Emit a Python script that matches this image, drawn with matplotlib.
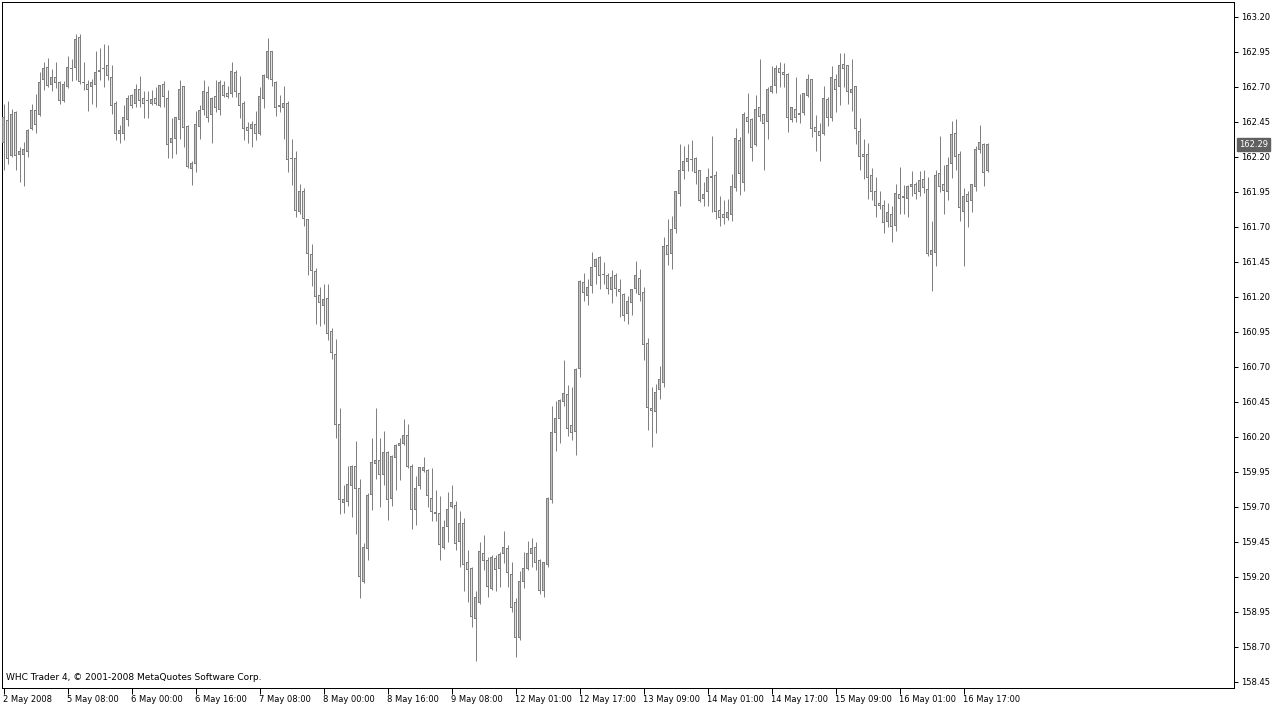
import matplotlib
matplotlib.use("Agg")
import matplotlib.pyplot as plt
import matplotlib.transforms as mtransforms
import numpy as np

# Hourly OHLC, 247 bars
opens = [162.30,162.46,162.21,162.52,162.22,162.22,162.24,162.40,162.53,162.50,
         162.75,162.84,162.72,162.77,162.73,162.60,162.70,162.83,162.84,163.05,
         162.73,162.72,162.70,162.72,162.81,162.83,162.85,162.77,162.58,162.37,
         162.37,162.47,162.64,162.58,162.68,162.62,162.60,162.58,162.62,162.57,
         162.72,162.62,162.30,162.33,162.47,162.70,162.42,162.12,162.15,162.42,
         162.54,162.66,162.50,162.63,162.54,162.71,162.65,162.65,162.80,162.65,
         162.58,162.41,162.40,162.43,162.37,162.62,162.77,162.95,162.73,162.56,
         162.55,162.58,162.19,162.19,161.81,161.95,161.75,161.50,161.38,161.21,
         161.14,161.19,160.95,160.79,160.29,159.73,159.74,159.85,159.99,159.83,
         159.17,159.40,159.79,160.01,160.03,159.93,160.09,159.76,160.05,160.14,
         160.15,160.21,159.99,159.68,159.85,159.96,159.96,159.76,159.66,159.65,
         159.41,159.56,159.70,159.71,159.45,159.58,159.30,159.26,158.90,159.02,
         159.37,159.32,159.12,159.33,159.26,159.37,159.40,159.22,159.02,158.77,
         159.17,159.26,159.37,159.41,159.32,159.10,159.29,159.75,160.23,160.33,
         160.45,160.50,160.28,160.24,160.69,161.30,161.21,161.28,161.42,161.48,
         161.36,161.35,161.25,161.35,161.25,161.22,161.08,161.16,161.26,161.33,
         161.23,160.87,160.40,160.38,160.54,160.59,161.57,161.51,161.69,161.94,
         162.10,162.17,162.18,162.19,162.10,161.90,161.95,162.05,162.07,161.82,
         161.79,161.77,161.79,161.98,162.32,162.02,162.48,162.47,162.29,162.55,
         162.50,162.45,162.67,162.71,162.83,162.80,162.79,162.47,162.54,162.51,
         162.52,162.64,162.75,162.41,162.38,162.37,162.61,162.48,162.75,162.70,
         162.86,162.85,162.66,162.70,162.38,162.22,162.22,162.07,161.95,161.87,
         161.85,161.74,161.79,161.71,161.93,161.92,161.90,161.99,162.00,161.95,
         162.04,161.97,161.50,161.52,162.08,162.00,161.95,162.15,162.37,162.22,
         161.81,161.93,161.89,161.99,162.25,162.29,162.10]
highs = [162.58,162.60,162.54,162.53,162.27,162.31,162.40,162.58,162.65,162.81,
         162.88,162.91,162.83,162.88,162.74,162.74,162.92,162.90,163.08,163.08,
         162.88,162.75,162.76,162.96,162.98,163.01,163.00,162.86,162.60,162.43,
         162.57,162.64,162.65,162.72,162.78,162.67,162.67,162.68,162.70,162.71,
         162.74,162.68,162.48,162.48,162.75,162.71,162.43,162.17,162.53,162.57,
         162.75,162.71,162.63,162.75,162.75,162.74,162.71,162.88,162.82,162.78,
         162.60,162.45,162.46,162.53,162.70,162.79,163.05,162.96,162.74,162.64,
         162.71,162.60,162.33,162.24,162.01,161.98,161.76,161.58,161.41,161.27,
         161.29,161.29,160.98,160.90,160.41,159.86,159.99,160.00,160.17,159.90,
         159.44,159.80,160.19,160.41,160.19,160.24,160.10,160.07,160.15,160.19,
         160.33,160.29,160.01,159.92,159.98,160.06,159.97,159.98,159.82,159.78,
         159.61,159.81,159.86,159.74,159.67,159.62,159.39,159.27,159.10,159.45,
         159.50,159.34,159.36,159.36,159.38,159.53,159.43,159.31,159.05,159.24,
         159.38,159.46,159.48,159.45,159.33,159.31,159.77,160.42,160.46,160.47,
         160.75,160.57,160.56,160.69,161.32,161.37,161.33,161.52,161.48,161.49,
         161.45,161.37,161.39,161.37,161.33,161.23,161.21,161.26,161.46,161.40,
         161.27,160.91,160.56,160.58,160.71,161.63,161.76,161.78,161.96,162.29,
         162.28,162.29,162.32,162.20,162.11,162.02,162.12,162.35,162.10,161.92,
         161.89,161.90,162.08,162.41,162.34,162.52,162.66,162.48,162.64,162.90,
         162.51,162.70,162.85,162.86,162.88,162.87,162.80,162.56,162.77,162.65,
         162.66,162.79,162.76,162.50,162.44,162.71,162.63,162.85,162.79,162.94,
         162.94,162.86,162.90,162.71,162.48,162.33,162.30,162.12,162.06,161.96,
         161.89,161.87,161.85,162.01,162.13,162.00,162.00,162.10,162.02,162.10,
         162.11,162.06,161.74,162.11,162.35,162.14,162.20,162.46,162.47,162.24,
         161.98,161.96,162.01,162.28,162.43,162.30,162.30]
lows = [162.11,162.15,162.20,162.11,162.02,161.99,162.20,162.39,162.37,162.49,
        162.68,162.70,162.67,162.69,162.58,162.59,162.69,162.74,162.75,162.72,
        162.68,162.53,162.58,162.56,162.75,162.70,162.75,162.51,162.32,162.30,
        162.32,162.42,162.55,162.56,162.56,162.48,162.48,162.57,162.57,162.56,
        162.56,162.19,162.19,162.22,162.33,162.27,162.12,162.00,162.09,162.33,
        162.50,162.45,162.30,162.52,162.50,162.63,162.62,162.63,162.63,162.48,
        162.32,162.30,162.27,162.32,162.36,162.55,162.76,162.71,162.49,162.52,
        162.33,162.09,162.00,161.77,161.79,161.71,161.36,161.28,161.01,160.99,
        161.01,160.89,160.76,160.19,159.65,159.66,159.71,159.63,159.51,159.05,
        159.16,159.32,159.68,159.90,159.70,159.86,159.61,159.71,159.82,159.89,
        160.14,159.98,159.54,159.57,159.83,159.95,159.70,159.60,159.60,159.32,
        159.40,159.45,159.69,159.39,159.27,159.10,159.02,158.84,158.60,159.01,
        159.25,159.06,159.11,159.10,159.13,159.30,159.13,158.95,158.63,158.75,
        159.12,159.25,159.27,159.25,159.08,159.06,159.27,159.73,160.10,160.16,
        160.42,160.21,160.18,160.07,160.63,161.17,161.14,161.23,161.29,161.26,
        161.29,161.22,161.16,161.21,161.06,161.03,161.01,161.07,161.23,161.17,
        160.75,160.25,160.13,160.23,160.47,160.56,161.43,161.40,161.66,161.85,
        162.04,162.10,162.10,162.01,161.88,161.85,161.85,161.81,161.76,161.71,
        161.72,161.75,161.74,161.96,161.93,161.96,162.37,162.17,162.28,162.46,
        162.11,162.33,162.66,162.66,162.70,162.70,162.38,162.45,162.45,162.44,
        162.50,162.63,162.34,162.24,162.17,162.36,162.42,162.46,162.52,162.57,
        162.70,162.58,162.53,162.29,162.11,162.04,161.90,161.89,161.77,161.83,
        161.66,161.70,161.59,161.67,161.79,161.79,161.77,161.92,161.90,161.92,
        161.94,161.49,161.24,161.42,161.95,161.79,161.89,162.05,162.11,161.74,
        161.42,161.70,161.81,161.96,162.23,161.99,162.09]
closes = [162.48,162.19,162.50,162.21,162.24,162.25,162.39,162.53,162.43,162.73,
          162.83,162.71,162.77,162.73,162.60,162.72,162.84,162.83,163.04,162.74,
          162.73,162.68,162.73,162.80,162.82,162.83,162.78,162.57,162.37,162.39,
          162.48,162.62,162.57,162.68,162.60,162.58,162.60,162.61,162.58,162.71,
          162.63,162.29,162.33,162.48,162.68,162.41,162.13,162.15,162.43,162.53,
          162.67,162.48,162.62,162.55,162.73,162.64,162.63,162.81,162.67,162.57,
          162.40,162.39,162.43,162.37,162.63,162.78,162.95,162.75,162.55,162.57,
          162.58,162.18,162.19,161.82,161.95,161.76,161.51,161.39,161.20,161.16,
          161.18,160.94,160.80,160.29,159.75,159.75,159.86,159.99,159.83,159.20,
          159.41,159.78,160.02,160.03,159.93,160.09,159.75,160.06,160.14,160.15,
          160.21,159.99,159.68,159.83,159.98,159.98,159.78,159.67,159.65,159.43,
          159.55,159.68,159.73,159.44,159.58,159.29,159.25,158.92,159.05,159.38,
          159.32,159.13,159.34,159.25,159.36,159.41,159.23,158.98,158.77,159.17,
          159.26,159.37,159.40,159.30,159.10,159.30,159.76,160.23,160.33,160.46,
          160.51,160.26,160.23,160.68,161.31,161.23,161.27,161.41,161.47,161.35,
          161.36,161.26,161.34,161.26,161.24,161.07,161.17,161.25,161.35,161.22,
          160.86,160.41,160.39,160.52,160.61,161.56,161.50,161.68,161.95,162.10,
          162.17,162.19,162.18,162.09,161.89,161.93,162.05,162.06,161.81,161.77,
          161.77,161.80,161.99,162.33,162.08,162.50,162.45,162.27,162.54,162.49,
          162.44,162.68,162.70,162.83,162.80,162.79,162.48,162.55,162.48,162.50,
          162.65,162.75,162.40,162.38,162.35,162.62,162.48,162.77,162.68,162.85,
          162.83,162.67,162.68,162.40,162.20,162.20,162.05,161.95,161.85,161.85,
          161.73,161.80,161.70,161.94,161.90,161.91,161.99,162.00,161.94,162.03,
          161.98,161.51,161.53,162.07,161.99,161.96,162.14,162.36,162.20,161.84,
          161.92,161.88,162.00,162.25,162.30,162.09,162.29]

tick_labels = ["2 May 2008", "5 May 08:00", "6 May 00:00", "6 May 16:00",
               "7 May 08:00", "8 May 00:00", "8 May 16:00", "9 May 08:00",
               "12 May 01:00", "12 May 17:00", "13 May 09:00", "14 May 01:00",
               "14 May 17:00", "15 May 09:00", "16 May 01:00", "16 May 17:00"]
label_step = 16
price_ticks = [163.20, 162.95, 162.70, 162.45, 162.20, 161.95, 161.70, 161.45,
               161.20, 160.95, 160.70, 160.45, 160.20, 159.95, 159.70, 159.45,
               159.20, 158.95, 158.70, 158.45]
last_price = 162.29

W, H = 1274, 705
AX_L, AX_R, AX_T, AX_B = 2, 1234, 2, 688
fig = plt.figure(figsize=(W / 100, H / 100), dpi=100)
fig.patch.set_facecolor("white")
ax = fig.add_axes([AX_L / W, 1 - AX_B / H, (AX_R - AX_L) / W, (AX_B - AX_T) / H])
ax.set_facecolor("white")

YMIN, YMAX = 158.407, 163.307
XMIN = -0.375
XMAX = XMIN + (AX_R - AX_L) / 4.0
ax.set_xlim(XMIN, XMAX)
ax.set_ylim(YMIN, YMAX)
px = (YMAX - YMIN) / (AX_B - AX_T)   # one pixel in price units

o = np.array(opens); h = np.array(highs); l = np.array(lows); c = np.array(closes)
x = np.arange(len(o))
hi = np.maximum(h, np.maximum(o, c))
lo = np.minimum(l, np.minimum(o, c))
up = c >= o
edge = "#808080"
bull = "#90E090"
bear = "#F8DCC4"

bot = np.minimum(o, c)
top = np.maximum(o, c)

# wicks
ax.vlines(x, lo, hi, color=edge, linewidth=0.72, zorder=2, antialiased=True)
# body outline (3 px wide)
ax.bar(x, (top - bot) + px, bottom=bot - px / 2, width=0.75, color=edge,
       linewidth=0, zorder=3, antialiased=True)
# body fill (1 px wide)
inner_h = np.clip((top - bot) - px, 0, None)
ax.bar(x, inner_h, bottom=bot + px / 2, width=0.25,
       color=np.where(up, bull, bear), linewidth=0, zorder=4, antialiased=True)

for s in ax.spines.values():
    s.set_color("#000000")
    s.set_linewidth(0.72)

ax.yaxis.tick_right()
ax.set_yticks(price_ticks)
ax.set_yticklabels([f"{v:.2f}" for v in price_ticks])
ax.tick_params(axis="y", direction="out", length=3, width=0.72, pad=2,
               labelsize=6, colors="#000000")

xt = np.arange(0, len(tick_labels) * label_step, label_step)
ax.set_xticks(xt)
ax.set_xticklabels(tick_labels, ha="left")
ax.tick_params(axis="x", direction="out", length=4, width=0.72, pad=1,
               labelsize=6, colors="#000000")
offset = mtransforms.ScaledTranslation(-0.5 / 100, 0, fig.dpi_scale_trans)
for lab in ax.get_xticklabels():
    lab.set_transform(lab.get_transform() + offset)

# last price tag
tr = mtransforms.blended_transform_factory(ax.transAxes, ax.transData)
ax.text(1.0 + 5 / 1232, last_price, f"{last_price:.2f}", transform=tr,
        ha="left", va="center", fontsize=6, color="white",
        bbox=dict(boxstyle="square,pad=0.2", facecolor="#606060",
                  edgecolor="#606060"), zorder=10, clip_on=False)

ax.text(4 / 1232, 6 / 686, "WHC Trader 4, \u00a9 2001-2008 MetaQuotes Software Corp.",
        transform=ax.transAxes, ha="left", va="bottom", fontsize=6.5,
        color="#000000")

fig.savefig("out.png", dpi=100, facecolor="white")
